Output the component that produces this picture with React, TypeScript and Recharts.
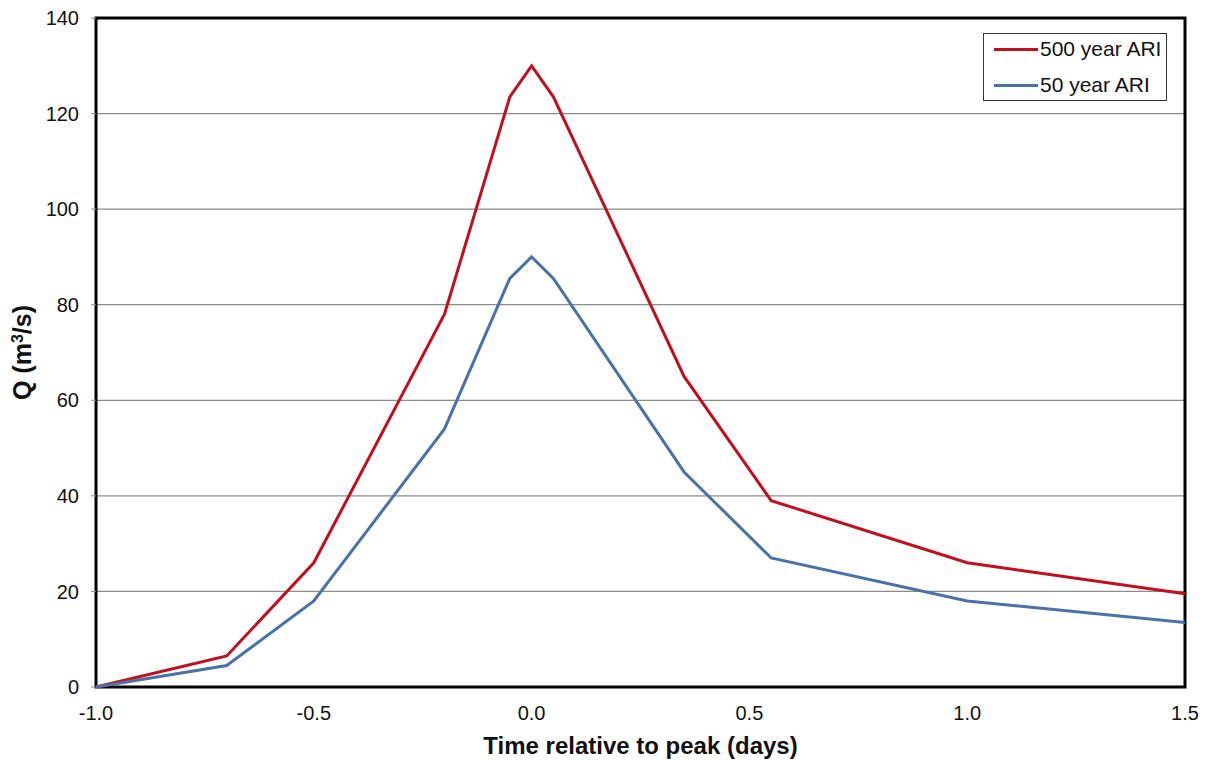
import { LineChart, Line, XAxis, YAxis, CartesianGrid, ReferenceArea, Label } from "recharts";

const times = [-1.0, -0.7, -0.5, -0.2, -0.05, 0.0, 0.05, 0.35, 0.55, 1.0, 1.5];
const ari500 = [0, 6.5, 26, 78, 123.5, 130, 123.5, 65, 39, 26, 19.5];
const ari50 = [0, 4.5, 18, 54, 85.5, 90, 85.5, 45, 27, 18, 13.5];
const xTicks = [-1.0, -0.5, 0.0, 0.5, 1.0, 1.5];
const yTicks = [0, 20, 40, 60, 80, 100, 120, 140];

const series = [
  { key: "ari500", name: "500 year ARI", color: "#C0101E" },
  { key: "ari50", name: "50 year ARI", color: "#4A72A6" },
];

const data = times.map((t, i) => ({ t, ari500: ari500[i], ari50: ari50[i] }));

const font = "Arial, 'Liberation Sans', sans-serif";

function LegendBox() {
  return (
    <div
      style={{
        position: "absolute",
        left: 983,
        top: 33,
        width: 184,
        height: 68,
        boxSizing: "border-box",
        border: "1px solid #333",
        background: "#fff",
        padding: "0 0 0 10px",
        fontFamily: font,
        fontSize: 21,
        color: "#111",
      }}
    >
      {series.map((s, i) => (
        <div key={s.key} style={{ display: "flex", alignItems: "center", height: 30, marginTop: i ? 6 : 0, whiteSpace: "nowrap" }}>
          <span style={{ display: "inline-block", width: 44, height: 3, background: s.color, marginRight: 2 }} />
          {s.name}
        </div>
      ))}
    </div>
  );
}

export default function App() {
  return (
    <div style={{ position: "absolute", left: 0, top: 0, width: 1207, height: 760, background: "#fff" }}>
      <LineChart width={1207} height={760} data={data} margin={{ top: 18, right: 22, bottom: 0, left: 0 }}>
        <CartesianGrid vertical={false} stroke="#8c8c8c" strokeWidth={1.2} />
        <XAxis
          dataKey="t"
          type="number"
          domain={[-1, 1.5]}
          ticks={xTicks}
          tickFormatter={(v: number) => v.toFixed(1)}
          height={73}
          tickLine={false}
          axisLine={false}
          tickMargin={13}
          tick={{ fill: "#111", fontSize: 20, fontFamily: font }}
        >
          <Label
            content={(p: any) => {
              const vb = p.viewBox || {};
              return (
                <text x={vb.x + vb.width / 2} y={754} textAnchor="middle" fontFamily={font} fontSize={24} fontWeight="bold" fill="#111">
                  Time relative to peak (days)
                </text>
              );
            }}
          />
        </XAxis>
        <YAxis
          type="number"
          domain={[0, 140]}
          ticks={yTicks}
          width={96}
          tickSize={5}
          tickMargin={12}
          tickLine={{ stroke: "#8c8c8c" }}
          axisLine={false}
          tick={{ fill: "#111", fontSize: 20, fontFamily: font }}
        >
          <Label
            content={(p: any) => {
              const vb = p.viewBox || {};
              const cy = vb.y + vb.height / 2;
              return (
                <text x={31} y={cy} transform={`rotate(-90 31 ${cy})`} textAnchor="middle" fontFamily={font} fontSize={25} fontWeight="bold" fill="#111">
                  Q (m<tspan baselineShift="super" fontSize={16}>3</tspan>/s)
                </text>
              );
            }}
          />
        </YAxis>
        <ReferenceArea x1={-1} x2={1.5} y1={0} y2={140} fill="none" stroke="#000" strokeWidth={3} ifOverflow="visible" />
        {series.map((s) => (
          <Line
            key={s.key}
            type="linear"
            dataKey={s.key}
            name={s.name}
            stroke={s.color}
            strokeWidth={3}
            dot={false}
            activeDot={false}
            isAnimationActive={false}
          />
        ))}
      </LineChart>
      <LegendBox />
    </div>
  );
}
